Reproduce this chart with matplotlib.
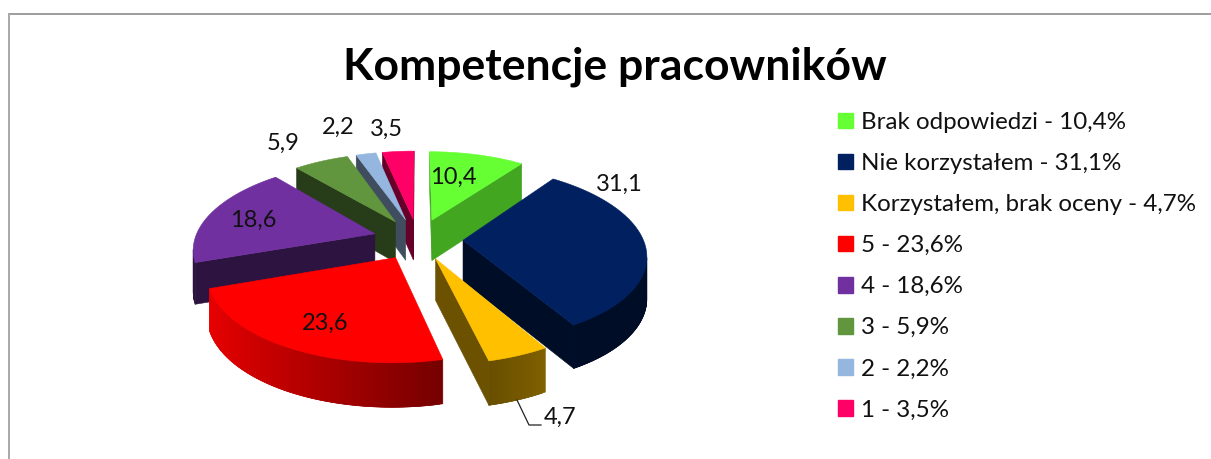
import numpy as np
import matplotlib
matplotlib.use("Agg")
import matplotlib.pyplot as plt
from matplotlib.patches import Polygon, Patch

# ---- data ----
TITLE = "Kompetencje pracowników"
categories = ["Brak odpowiedzi", "Nie korzystałem", "Korzystałem, brak oceny",
              "5", "4", "3", "2", "1"]
values = [10.4, 31.1, 4.7, 23.6, 18.6, 5.9, 2.2, 3.5]

# ---- style ----
colors = ["#66FF33", "#002060", "#FFC000", "#FF0000",
          "#7030A0", "#62963E", "#95B7DF", "#FF0066"]
wall_shade = [0.65, 0.40, 0.42, 0.6, 0.40, 0.40, 0.42, 0.40]
outer_gradient = [1, 0, 1, 1, 0, 0, 0, 0]
label_xy = [(453, 177), (619, 184), (560, 417), (325, 323),
            (253, 220), (283, 143), (338, 127), (386, 129)]
W, H = 1211, 459
CX, CY, RX, RY, EXPLODE = 418, 239, 180, 190, 45
FONT = "Lato"

plt.rcParams["font.family"] = [FONT, "DejaVu Sans"]
fig = plt.figure(figsize=(W / 100, H / 100), dpi=100)
ax = fig.add_axes([0, 0, 1, 1])
ax.set_xlim(0, W)
ax.set_ylim(H, 0)
ax.axis("off")


def project(X, Y):
    X, Y = np.asarray(X, float), np.asarray(Y, float)
    s = 1 - 0.16 * Y / RY
    return CX + s * X, CY - (0.458 * Y - 0.000356 * Y ** 2)


def depth(Y):
    return 41 - 0.015 * np.asarray(Y, float)


def shade(hexcol, f):
    return tuple(np.clip(np.array(matplotlib.colors.to_rgb(hexcol)) * f, 0, 1))


def add_poly(pts, color):
    ax.add_patch(Polygon(pts, closed=True, facecolor=color, edgecolor=color,
                         linewidth=0.4))


def faces_viewer(p, q, inside):
    """An edge of the top face shows its wall when the face lies above it."""
    ex_, ey_ = q[0] - p[0], q[1] - p[1]
    side_in = ex_ * (inside[1] - p[1]) - ey_ * (inside[0] - p[0])
    side_down = ex_ * 1.0
    return side_in * side_down < 0


edges = np.concatenate([[0], np.cumsum(values)]) / sum(values) * 2 * np.pi
slices = []
for i in range(len(values)):
    a0, a1 = edges[i], edges[i + 1]
    mid = (a0 + a1) / 2
    slices.append((np.cos(mid), i, a0, a1, mid))

for _, i, a0, a1, mid in sorted(slices, key=lambda t: -t[0]):
    col = colors[i]
    ex, ey = EXPLODE * np.sin(mid), EXPLODE * np.cos(mid)
    th = np.linspace(a0, a1, max(6, int((a1 - a0) * 60)))
    Xo, Yo = ex + RX * np.sin(th), ey + RY * np.cos(th)
    xo, yo = project(Xo, Yo)
    xa, ya = project(ex, ey)
    do, da = depth(Yo), depth(ey)
    inside = project(ex + 0.6 * RX * np.sin(mid), ey + 0.6 * RY * np.cos(mid))
    wc = shade(col, wall_shade[i])
    # outer wall, painted as overlapping strips so it can carry a gradient
    for k in range(len(th) - 1):
        p, q = (xo[k], yo[k]), (xo[k + 1], yo[k + 1])
        if not faces_viewer(p, q, inside):
            continue
        tm = (th[k] + th[k + 1]) / 2
        if outer_gradient[i]:
            f = np.clip(0.55 - 0.38 * np.sin(tm), 0.1, 1)
        else:
            f = wall_shade[i]
        if col == "#FFC000":
            f = 0.5 - 0.1 * (k / len(th))
        e = min(k + 2, len(th) - 1)
        add_poly([p, (xo[e], yo[e]), (xo[e], yo[e] + do[e]), (xo[k], yo[k] + do[k])],
                 shade(col, f))
    # radial walls
    for j in (0, -1):
        if faces_viewer((xa, ya), (xo[j], yo[j]), inside):
            add_poly([(xa, ya), (xo[j], yo[j]), (xo[j], yo[j] + do[j]), (xa, ya + da)], wc)
    # top face
    add_poly(np.vstack([[xa, ya], np.column_stack([xo, yo])]), col)

# data labels
for v, (lx, ly) in zip(values, label_xy):
    ax.text(lx, ly, f"{v:.1f}".replace(".", ","), ha="center", va="center",
            fontsize=17, color="#111111")
ax.plot([517, 529, 541], [400, 425, 425], color="#222222", lw=0.9)

# title
ax.text(615, 67, TITLE, ha="center", va="center", fontsize=32,
        fontweight="bold", color="black")

# chart frame (only top and left edges are in view)
ax.plot([9, W], [14, 14], color="#8C8C8C", lw=1.2, clip_on=False)
ax.plot([9, 9], [14, H], color="#A8A8A8", lw=1.4, clip_on=False)

# legend
handles = [Patch(facecolor=c, edgecolor=c, label=f"{n} - {v:.1f}%".replace(".", ","))
           for c, n, v in zip(colors, categories, values)]
ax.legend(handles=handles, loc="upper left", bbox_to_anchor=(838, 112),
          bbox_transform=ax.transData, frameon=False, fontsize=17.4,
          handlelength=0.62, handleheight=0.62, handletextpad=0.33,
          labelspacing=0.83, borderpad=0, borderaxespad=0, labelcolor="#111111")

fig.savefig("out.png", dpi=100, facecolor="white")
